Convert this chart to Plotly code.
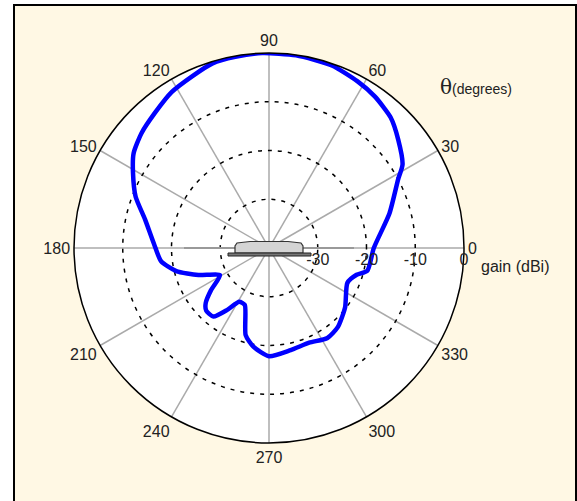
import plotly.graph_objects as go

# ---- data ----
theta_deg = [0, 16, 28, 32, 40, 47, 55, 62, 71, 82, 92, 100, 107, 114, 122, 130,
             138, 145, 151, 159, 167, 178, 187, 194, 201, 209, 216, 221, 225, 231,
             236, 241, 247, 255, 261, 270, 282, 293, 303, 311, 322, 336, 343, 347, 360]
gain_dbi = [-18.5, -14.3, -10.0, -7.7, -5.4, -3.4, -2.1, -1.3, -0.4, -0.1, 0.0, -0.2,
            -0.4, -1.4, -2.3, -3.7, -4.8, -6.1, -8.1, -10.7, -13.9, -16.4, -17.7, -20.4,
            -24.5, -28.5, -25.3, -22.8, -21.8, -21.9, -24.7, -27.4, -27.3, -21.5, -19.5,
            -17.8, -18.6, -18.9, -18.0, -18.5, -20.2, -22.4, -21.2, -19.3, -18.5]
angle_ticks = list(range(0, 360, 30))
gain_ticks = [-30, -20, -10, 0]
gain_range = [-40, 0]

W, H = 577, 501
CX, CY, R = 269, 248, 195

def px(x):
    return x / W

def py(y):
    return 1 - y / H

fig = go.Figure()
fig.add_trace(go.Scatterpolar(
    r=gain_dbi, theta=theta_deg, mode="lines",
    line=dict(color="#0000FF", width=4.5, shape="spline", smoothing=0.6),
    hoverinfo="skip", showlegend=False,
))

font = dict(family="Liberation Sans, Arial, sans-serif", size=16, color="#222222")

fig.update_layout(
    width=W, height=H,
    margin=dict(l=0, r=0, t=0, b=0),
    paper_bgcolor="white",
    showlegend=False,
    font=font,
    polar=dict(
        domain=dict(x=[px(CX - R), px(CX + R)], y=[py(CY + R), py(CY - R)]),
        bgcolor="white",
        angularaxis=dict(
            direction="counterclockwise", rotation=0,
            tickmode="array", tickvals=angle_ticks,
            ticktext=[str(a) for a in angle_ticks],
            ticks="", showline=True, linecolor="black", linewidth=1.5,
            showgrid=True, gridcolor="#aaaaaa", gridwidth=1.5,
            tickfont=font,
        ),
        radialaxis=dict(
            range=gain_range, angle=0, side="clockwise",
            tickmode="array", tickvals=gain_ticks,
            ticktext=[str(v) for v in gain_ticks],
            ticks="", showline=False,
            showgrid=True, gridcolor="black", gridwidth=1.5, griddash="4px,6px",
            tickfont=font,
        ),
    ),
)

shapes = [
    # cream frame
    dict(type="rect", xref="paper", yref="paper", layer="below",
         x0=px(14), x1=px(576), y0=py(512), y1=py(5),
         fillcolor="#FFF8E4", line=dict(color="black", width=2)),
    # ground line
    dict(type="line", xref="paper", yref="paper",
         x0=px(CX - 85), x1=px(CX + 85), y0=py(CY), y1=py(CY),
         line=dict(color="#999999", width=2)),
]
# antenna dome
dome = [(235, 253), (235, 246), (237, 243), (250, 241.5), (288, 241.5), (301, 243),
        (303, 246), (303, 253)]
path = "M " + " L ".join(f"{px(x):.5f},{py(y):.5f}" for x, y in dome) + " Z"
shapes.append(dict(type="path", xref="paper", yref="paper", path=path,
                   fillcolor="#d4d4d4", line=dict(color="#333333", width=1.2)))
# base plate
shapes.append(dict(type="rect", xref="paper", yref="paper",
                   x0=px(228), x1=px(311), y0=py(256), y1=py(253),
                   fillcolor="#777777", line=dict(color="#222222", width=1)))
fig.update_layout(shapes=shapes)

fig.add_annotation(xref="paper", yref="paper", x=px(479), y=py(266),
                   xanchor="left", yanchor="middle", showarrow=False,
                   text="gain (dBi)", font=font)
fig.add_annotation(xref="paper", yref="paper", x=px(438), y=py(87),
                   xanchor="left", yanchor="middle", showarrow=False,
                   text="<span style='font-family:DejaVu Serif, serif;font-size:20px'>θ</span>"
                        "<span style='font-size:14px'>(degrees)</span>",
                   font=font)

fig.write_html(
    "out.html",
    config={"displayModeBar": False, "staticPlot": True},
    post_script="document.body.style.margin='0';document.body.style.overflow='hidden';",
)
